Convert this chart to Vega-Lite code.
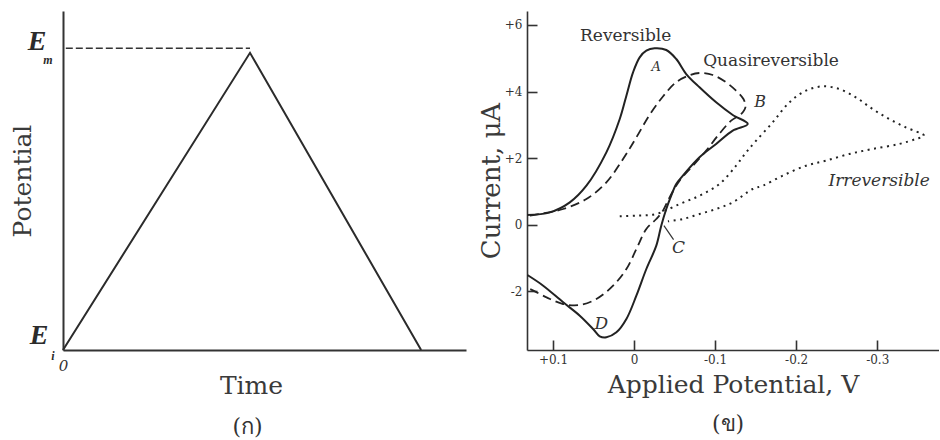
{
  "$schema": "https://vega.github.io/schema/vega-lite/v6.json",
  "background": "white",
  "padding": {"left": 10, "top": 11, "right": 0, "bottom": 0},
  "bounds": "flush",
  "spacing": 61,
  "config": {
    "view": {"stroke": null},
    "font": "DejaVu Serif",
    "axis": {
      "grid": false,
      "domainColor": "#333",
      "domainWidth": 1.6,
      "tickColor": "#333",
      "tickWidth": 1.6,
      "labelColor": "#333",
      "labelFont": "DejaVu Serif",
      "labelFontSize": 12,
      "labelFlush": false,
      "titleColor": "#3a3a3a",
      "titleFont": "DejaVu Serif",
      "titleFontWeight": "normal",
      "titleFontSize": 25
    }
  },
  "datasets": {
    "tri": [
      {"t": 0, "v": 0},
      {"t": 1, "v": 0.985},
      {"t": 1.915, "v": 0}
    ],
    "emline": [
      {"t": 0.015, "v": 1},
      {"t": 1, "v": 1}
    ],
    "elab": [
      {"t": 0, "v": 1, "k": "m"},
      {"t": 0, "v": 0, "k": "i"}
    ],
    "cv": [
      {"s": "rev", "i": 1, "x": 0.1315, "y": 0.286},
      {"s": "rev", "i": 2, "x": 0.1038, "y": 0.366},
      {"s": "rev", "i": 3, "x": 0.0792, "y": 0.667},
      {"s": "rev", "i": 4, "x": 0.0587, "y": 1.168},
      {"s": "rev", "i": 5, "x": 0.0341, "y": 2.170},
      {"s": "rev", "i": 6, "x": 0.0176, "y": 3.173},
      {"s": "rev", "i": 7, "x": 0.0094, "y": 3.875},
      {"s": "rev", "i": 8, "x": 0.0012, "y": 4.576},
      {"s": "rev", "i": 9, "x": -0.0070, "y": 5.028},
      {"s": "rev", "i": 10, "x": -0.0152, "y": 5.228},
      {"s": "rev", "i": 11, "x": -0.0254, "y": 5.298},
      {"s": "rev", "i": 12, "x": -0.0398, "y": 5.248},
      {"s": "rev", "i": 13, "x": -0.0521, "y": 4.977},
      {"s": "rev", "i": 14, "x": -0.0644, "y": 4.526},
      {"s": "rev", "i": 15, "x": -0.0808, "y": 4.125},
      {"s": "rev", "i": 16, "x": -0.1013, "y": 3.674},
      {"s": "rev", "i": 17, "x": -0.1218, "y": 3.293},
      {"s": "rev", "i": 18, "x": -0.1403, "y": 3.023},
      {"s": "rev", "i": 19, "x": -0.1218, "y": 2.822},
      {"s": "rev", "i": 20, "x": -0.1013, "y": 2.421},
      {"s": "rev", "i": 21, "x": -0.0808, "y": 2.020},
      {"s": "rev", "i": 22, "x": -0.0603, "y": 1.469},
      {"s": "rev", "i": 23, "x": -0.0521, "y": 1.218},
      {"s": "rev", "i": 24, "x": -0.0459, "y": 0.867},
      {"s": "rev", "i": 25, "x": -0.0398, "y": 0.466},
      {"s": "rev", "i": 26, "x": -0.0336, "y": -0.035},
      {"s": "rev", "i": 27, "x": -0.0275, "y": -0.637},
      {"s": "rev", "i": 28, "x": -0.0152, "y": -1.338},
      {"s": "rev", "i": 29, "x": -0.0029, "y": -2.140},
      {"s": "rev", "i": 30, "x": 0.0094, "y": -2.842},
      {"s": "rev", "i": 31, "x": 0.0217, "y": -3.243},
      {"s": "rev", "i": 32, "x": 0.0341, "y": -3.393},
      {"s": "rev", "i": 33, "x": 0.0423, "y": -3.363},
      {"s": "rev", "i": 34, "x": 0.0505, "y": -3.143},
      {"s": "rev", "i": 35, "x": 0.0669, "y": -2.742},
      {"s": "rev", "i": 36, "x": 0.0874, "y": -2.341},
      {"s": "rev", "i": 37, "x": 0.1120, "y": -1.840},
      {"s": "rev", "i": 38, "x": 0.1315, "y": -1.519},
      {"s": "quasi", "i": 1, "x": 0.1284, "y": 0.266},
      {"s": "quasi", "i": 2, "x": 0.1161, "y": 0.316},
      {"s": "quasi", "i": 3, "x": 0.0874, "y": 0.466},
      {"s": "quasi", "i": 4, "x": 0.0587, "y": 0.767},
      {"s": "quasi", "i": 5, "x": 0.0341, "y": 1.268},
      {"s": "quasi", "i": 6, "x": 0.0135, "y": 1.970},
      {"s": "quasi", "i": 7, "x": -0.0029, "y": 2.620},
      {"s": "quasi", "i": 8, "x": -0.0193, "y": 3.300},
      {"s": "quasi", "i": 9, "x": -0.0357, "y": 3.850},
      {"s": "quasi", "i": 10, "x": -0.0520, "y": 4.280},
      {"s": "quasi", "i": 11, "x": -0.0685, "y": 4.490},
      {"s": "quasi", "i": 12, "x": -0.0808, "y": 4.556},
      {"s": "quasi", "i": 13, "x": -0.0972, "y": 4.496},
      {"s": "quasi", "i": 14, "x": -0.1136, "y": 4.276},
      {"s": "quasi", "i": 15, "x": -0.1259, "y": 4.025},
      {"s": "quasi", "i": 16, "x": -0.1350, "y": 3.775},
      {"s": "quasi", "i": 17, "x": -0.1374, "y": 3.524},
      {"s": "quasi", "i": 18, "x": -0.1321, "y": 3.323},
      {"s": "quasi", "i": 19, "x": -0.1198, "y": 3.123},
      {"s": "quasi", "i": 20, "x": -0.1034, "y": 2.672},
      {"s": "quasi", "i": 21, "x": -0.0890, "y": 2.221},
      {"s": "quasi", "i": 22, "x": -0.0726, "y": 1.769},
      {"s": "quasi", "i": 23, "x": -0.0562, "y": 1.318},
      {"s": "quasi", "i": 24, "x": -0.0439, "y": 0.817},
      {"s": "quasi", "i": 25, "x": -0.0357, "y": 0.416},
      {"s": "quasi", "i": 26, "x": -0.0275, "y": 0.165},
      {"s": "quasi", "i": 27, "x": -0.0152, "y": -0.135},
      {"s": "quasi", "i": 28, "x": -0.0029, "y": -0.737},
      {"s": "quasi", "i": 29, "x": 0.0094, "y": -1.338},
      {"s": "quasi", "i": 30, "x": 0.0258, "y": -1.840},
      {"s": "quasi", "i": 31, "x": 0.0464, "y": -2.241},
      {"s": "quasi", "i": 32, "x": 0.0669, "y": -2.421},
      {"s": "quasi", "i": 33, "x": 0.0874, "y": -2.391},
      {"s": "quasi", "i": 34, "x": 0.1079, "y": -2.190},
      {"s": "quasi", "i": 35, "x": 0.1284, "y": -1.940},
      {"s": "quasi", "i": 36, "x": 0.1315, "y": -1.919},
      {"s": "irr", "i": 1, "x": 0.0176, "y": 0.246},
      {"s": "irr", "i": 2, "x": -0.0029, "y": 0.266},
      {"s": "irr", "i": 3, "x": -0.0275, "y": 0.316},
      {"s": "irr", "i": 4, "x": -0.0562, "y": 0.617},
      {"s": "irr", "i": 5, "x": -0.0808, "y": 0.867},
      {"s": "irr", "i": 6, "x": -0.1054, "y": 1.218},
      {"s": "irr", "i": 7, "x": -0.1259, "y": 1.769},
      {"s": "irr", "i": 8, "x": -0.1383, "y": 2.170},
      {"s": "irr", "i": 9, "x": -0.1506, "y": 2.521},
      {"s": "irr", "i": 10, "x": -0.1711, "y": 3.073},
      {"s": "irr", "i": 11, "x": -0.1916, "y": 3.674},
      {"s": "irr", "i": 12, "x": -0.2121, "y": 4.025},
      {"s": "irr", "i": 13, "x": -0.2326, "y": 4.155},
      {"s": "irr", "i": 14, "x": -0.2531, "y": 4.075},
      {"s": "irr", "i": 15, "x": -0.2736, "y": 3.825},
      {"s": "irr", "i": 16, "x": -0.2942, "y": 3.474},
      {"s": "irr", "i": 17, "x": -0.3147, "y": 3.173},
      {"s": "irr", "i": 18, "x": -0.3352, "y": 2.922},
      {"s": "irr", "i": 19, "x": -0.3577, "y": 2.672},
      {"s": "irr", "i": 20, "x": -0.3475, "y": 2.571},
      {"s": "irr", "i": 21, "x": -0.3270, "y": 2.421},
      {"s": "irr", "i": 22, "x": -0.2942, "y": 2.271},
      {"s": "irr", "i": 23, "x": -0.2654, "y": 2.120},
      {"s": "irr", "i": 24, "x": -0.2367, "y": 1.920},
      {"s": "irr", "i": 25, "x": -0.2121, "y": 1.769},
      {"s": "irr", "i": 26, "x": -0.1834, "y": 1.469},
      {"s": "irr", "i": 27, "x": -0.1588, "y": 1.168},
      {"s": "irr", "i": 28, "x": -0.1465, "y": 1.068},
      {"s": "irr", "i": 29, "x": -0.1218, "y": 0.667},
      {"s": "irr", "i": 30, "x": -0.1013, "y": 0.466},
      {"s": "irr", "i": 31, "x": -0.0808, "y": 0.316},
      {"s": "irr", "i": 32, "x": -0.0603, "y": 0.165},
      {"s": "irr", "i": 33, "x": -0.0418, "y": 0.095}
    ],
    "names": [
      {"x": 0.0103, "y": 5.679, "text": "Reversible"},
      {"x": -0.169, "y": 4.927, "text": "Quasireversible"}
    ],
    "inames": [
      {"x": -0.3024, "y": 1.318, "text": "Irreversible", "sz": 17},
      {"x": -0.1555, "y": 3.674, "text": "B", "sz": 16},
      {"x": -0.055, "y": -0.717, "text": "C", "sz": 17},
      {"x": 0.0402, "y": -2.992, "text": "D", "sz": 17}
    ],
    "alab": [
      {"x": -0.0275, "y": 4.727, "text": "A"}
    ],
    "leader": [
      {"x": -0.0369, "y": -0.035, "x2": -0.0488, "y2": -0.456}
    ]
  },
  "hconcat": [
    {
      "width": 403,
      "height": 339,
      "title": {"text": "(ก)", "orient": "bottom", "fontSize": 22, "fontWeight": "normal", "color": "#333", "dx": -17, "offset": 19},
      "layer": [
        {
          "data": {"name": "tri"},
          "mark": {"type": "line", "color": "#2b2b2b", "strokeWidth": 2},
          "encoding": {
            "x": {"field": "t", "type": "quantitative", "scale": {"domain": [0, 2.155], "nice": false, "zero": false},
              "axis": {"title": "Time", "values": [0], "labelExpr": "'0'", "ticks": false, "labelFontStyle": "italic", "labelFontSize": 15, "labelPadding": 8, "titlePadding": 0, "titleX": 188, "domainWidth": 2}},
            "y": {"field": "v", "type": "quantitative", "scale": {"domain": [0, 1.1236], "nice": false},
              "axis": {"title": "Potential", "labels": false, "ticks": false, "titlePadding": 28, "domainWidth": 2}}
          }
        },
        {
          "data": {"name": "emline"},
          "mark": {"type": "line", "color": "#333", "strokeWidth": 1.5, "strokeDash": [7, 3]},
          "encoding": {
            "x": {"field": "t", "type": "quantitative"},
            "y": {"field": "v", "type": "quantitative"}
          }
        },
        {
          "data": {"name": "elab"},
          "transform": [{"filter": "datum.k == 'm'"}],
          "mark": {"type": "text", "text": "E", "font": "Liberation Serif", "fontSize": 28, "fontWeight": "bold", "fontStyle": "italic", "color": "#2b2b2b", "dx": -26, "dy": -6},
          "encoding": {"x": {"field": "t", "type": "quantitative"}, "y": {"field": "v", "type": "quantitative"}}
        },
        {
          "data": {"name": "elab"},
          "transform": [{"filter": "datum.k == 'm'"}],
          "mark": {"type": "text", "text": "m", "font": "Liberation Serif", "fontSize": 12, "fontWeight": "bold", "fontStyle": "italic", "color": "#2b2b2b", "dx": -15, "dy": 12},
          "encoding": {"x": {"field": "t", "type": "quantitative"}, "y": {"field": "v", "type": "quantitative"}}
        },
        {
          "data": {"name": "elab"},
          "transform": [{"filter": "datum.k == 'i'"}],
          "mark": {"type": "text", "text": "E", "font": "Liberation Serif", "fontSize": 28, "fontWeight": "bold", "fontStyle": "italic", "color": "#2b2b2b", "dx": -24, "dy": -14},
          "encoding": {"x": {"field": "t", "type": "quantitative"}, "y": {"field": "v", "type": "quantitative"}}
        },
        {
          "data": {"name": "elab"},
          "transform": [{"filter": "datum.k == 'i'"}],
          "mark": {"type": "text", "text": "i", "font": "Liberation Serif", "fontSize": 12, "fontWeight": "bold", "fontStyle": "italic", "color": "#2b2b2b", "dx": -10, "dy": 6},
          "encoding": {"x": {"field": "t", "type": "quantitative"}, "y": {"field": "v", "type": "quantitative"}}
        }
      ]
    },
    {
      "width": 412,
      "height": 339,
      "title": {"text": "(ข)", "orient": "bottom", "fontSize": 22, "fontWeight": "normal", "color": "#333", "dx": -5, "offset": 17},
      "layer": [
        {
          "data": {"name": "cv"},
          "transform": [{"filter": "datum.s == 'rev'"}],
          "mark": {"type": "line", "interpolate": "catmull-rom", "color": "#222", "strokeWidth": 2},
          "encoding": {
            "x": {"field": "x", "type": "quantitative", "scale": {"domain": [-0.3762, 0.132], "reverse": true, "nice": false, "zero": false},
              "axis": {"title": "Applied Potential, V", "values": [0.1, 0, -0.1, -0.2, -0.3],
                "labelExpr": "datum.value > 0.001 ? '+' + format(datum.value, '.1f') : (datum.value < -0.001 ? '-' + format(-datum.value, '.1f') : '0')",
                "tickSize": -10, "labelPadding": 14, "titlePadding": 7}},
            "y": {"field": "y", "type": "quantitative", "scale": {"domain": [-3.774, 6.421], "nice": false, "zero": false},
              "axis": {"title": "Current, μA", "values": [-2, 0, 2, 4, 6],
                "labelExpr": "datum.value > 0 ? '+' + datum.value : '' + datum.value",
                "tickSize": -10, "labelPadding": 15, "titlePadding": 0, "titleFontSize": 26}},
            "order": {"field": "i", "type": "quantitative"}
          }
        },
        {
          "data": {"name": "cv"},
          "transform": [{"filter": "datum.s == 'quasi'"}],
          "mark": {"type": "line", "interpolate": "catmull-rom", "color": "#222", "strokeWidth": 1.8, "strokeDash": [9, 5]},
          "encoding": {
            "x": {"field": "x", "type": "quantitative"},
            "y": {"field": "y", "type": "quantitative"},
            "order": {"field": "i", "type": "quantitative"}
          }
        },
        {
          "data": {"name": "cv"},
          "transform": [{"filter": "datum.s == 'irr'"}],
          "mark": {"type": "line", "interpolate": "catmull-rom", "color": "#222", "strokeWidth": 2, "strokeDash": [2, 4.5]},
          "encoding": {
            "x": {"field": "x", "type": "quantitative"},
            "y": {"field": "y", "type": "quantitative"},
            "order": {"field": "i", "type": "quantitative"}
          }
        },
        {
          "data": {"name": "leader"},
          "mark": {"type": "rule", "color": "#333", "strokeWidth": 1.2},
          "encoding": {
            "x": {"field": "x", "type": "quantitative"},
            "y": {"field": "y", "type": "quantitative"},
            "x2": {"field": "x2"},
            "y2": {"field": "y2"}
          }
        },
        {
          "data": {"name": "names"},
          "mark": {"type": "text", "fontSize": 17, "color": "#333"},
          "encoding": {
            "x": {"field": "x", "type": "quantitative"},
            "y": {"field": "y", "type": "quantitative"},
            "text": {"field": "text"}
          }
        },
        {
          "data": {"name": "inames"},
          "mark": {"type": "text", "fontStyle": "italic", "color": "#333"},
          "encoding": {
            "x": {"field": "x", "type": "quantitative"},
            "y": {"field": "y", "type": "quantitative"},
            "text": {"field": "text"},
            "size": {"field": "sz", "type": "quantitative", "scale": null}
          }
        },
        {
          "data": {"name": "alab"},
          "mark": {"type": "text", "fontStyle": "italic", "fontSize": 13, "color": "#333"},
          "encoding": {
            "x": {"field": "x", "type": "quantitative"},
            "y": {"field": "y", "type": "quantitative"},
            "text": {"field": "text"}
          }
        }
      ]
    }
  ]
}
